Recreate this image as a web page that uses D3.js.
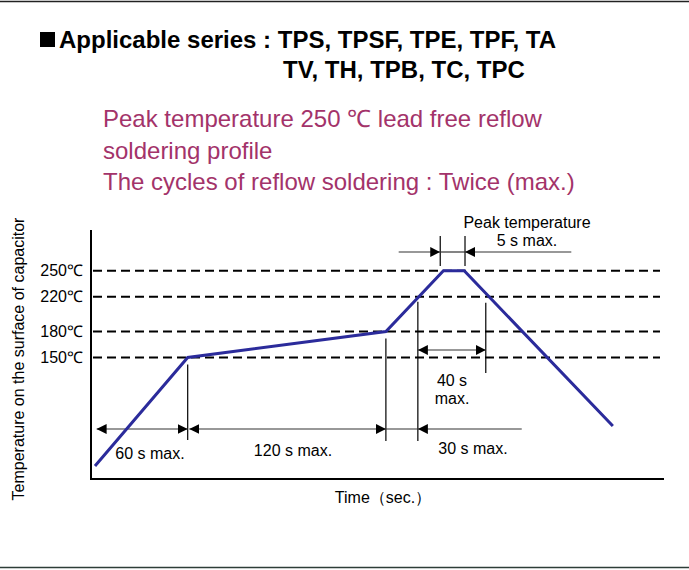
<!DOCTYPE html>
<html>
<head>
<meta charset="utf-8">
<script src="https://cdn.jsdelivr.net/npm/d3@7"></script>
<style>
  body { margin: 0; background: #fff; }
  text { font-family: "Liberation Sans", Arial, sans-serif; }
</style>
</head>
<body>
<div id="plot"></div>
<script>
// reflow profile, schematic values
const profileTime = [0, 58, 182, 218, 231, 324];
const profileTemp = [25, 150, 180, 250, 250, 71];

const levels = [150, 180, 220, 250];
const levelLabels = ["150℃", "180℃", "220℃", "250℃"];

// dimension spans (time in s)
const spanStart = [0, 59, 182];
const spanEnd = [58, 182, 202];
const spanLabels = ["60 s max.", "120 s max.", "30 s max."];

const titleLines = ["Applicable series : TPS, TPSF, TPE, TPF, TA", "TV, TH, TPB, TC, TPC"];
const subtitleLines = ["Peak temperature 250 ℃ lead free reflow", "soldering profile", "The cycles of reflow soldering : Twice (max.)"];

const w = 689;
const h = 570;
const plot = { left: 91, right: 664, top: 230, bottom: 479 };

const svg = d3.select("div#plot")
    .append("svg")
    .attr("width", w)
    .attr("height", h);

const x = d3.scaleLinear().domain([-2.5, 356]).range([plot.left, plot.right]);
const y = d3.scaleLinear().domain([10, 297]).range([plot.bottom, plot.top]);

// arrow heads
const defs = svg.append("defs");
defs.append("marker")
    .attr("id", "arr")
    .attr("viewBox", "0 0 10 10")
    .attr("refX", 10).attr("refY", 5)
    .attr("markerWidth", 10).attr("markerHeight", 10)
    .attr("markerUnits", "userSpaceOnUse")
    .attr("orient", "auto-start-reverse")
    .append("path")
    .attr("d", "M0,0L10,5L0,10Z")
    .attr("fill", "#000");

// frame lines
svg.append("line").attr("x1", 0).attr("x2", w).attr("y1", 1.5).attr("y2", 1.5)
    .attr("stroke", "#222").attr("stroke-width", 1.5);
svg.append("line").attr("x1", 0).attr("x2", w).attr("y1", 567.5).attr("y2", 567.5)
    .attr("stroke", "#2d3d38").attr("stroke-width", 1.5);

// title
svg.append("rect").attr("x", 40).attr("y", 32).attr("width", 15).attr("height", 15).attr("fill", "#000");
svg.selectAll(".title")
    .data(titleLines)
    .enter().append("text")
    .attr("class", "title")
    .attr("x", (d, i) => i === 0 ? 59 : 283)
    .attr("y", (d, i) => 48 + i * 30)
    .attr("font-size", "24px")
    .attr("font-weight", "bold")
    .attr("fill", "#000")
    .text(d => d);

svg.selectAll(".subtitle")
    .data(subtitleLines)
    .enter().append("text")
    .attr("class", "subtitle")
    .attr("x", 103)
    .attr("y", (d, i) => 127 + i * 31.5)
    .attr("font-size", "24px")
    .attr("fill", "#a3336a")
    .text(d => d);

// dashed levels
svg.selectAll(".level")
    .data(levels)
    .enter().append("line")
    .attr("x1", plot.left + 2).attr("x2", 660)
    .attr("y1", d => y(d)).attr("y2", d => y(d))
    .attr("stroke", "#000")
    .attr("stroke-width", 2)
    .attr("stroke-dasharray", "9,5");

// axes
const yAxis = d3.axisLeft(y).tickValues(levels).tickFormat((d, i) => levelLabels[i]).tickSize(0).tickPadding(8);
const gy = svg.append("g").attr("transform", `translate(${plot.left},0)`).call(yAxis);
gy.select(".domain").remove();
gy.selectAll("text").attr("font-size", "16px").attr("font-family", "Liberation Sans, Arial, sans-serif").attr("fill", "#000");

svg.append("path")
    .attr("d", `M${plot.left},${plot.top}V${plot.bottom}H${plot.right}`)
    .attr("fill", "none").attr("stroke", "#000").attr("stroke-width", 2);

svg.append("text")
    .attr("transform", `translate(24,${359}) rotate(-90)`)
    .attr("text-anchor", "middle")
    .attr("font-size", "16px")
    .text("Temperature on the surface of capacitor");

svg.append("text")
    .attr("x", 383).attr("y", 503)
    .attr("text-anchor", "middle")
    .attr("font-size", "16px")
    .text("Time（sec.）");

// extension lines
function vline(t, y1, y2) {
  svg.append("line")
      .attr("x1", x(t)).attr("x2", x(t))
      .attr("y1", y1).attr("y2", y2)
      .attr("stroke", "#000").attr("stroke-width", 1.2);
}
vline(58, y(150) + 7, 440);
vline(182, y(180) + 7, 441);
vline(202, y(220) + 5, 441);
vline(244.5, y(220) + 6, 373);
vline(216, 236, 266);
vline(231.5, 236, 266);

// horizontal dimension arrows
const dimY = 429;
function hline(t1, t2, yy, a1, a2) {
  const l = svg.append("line")
      .attr("x1", x(t1)).attr("x2", x(t2))
      .attr("y1", yy).attr("y2", yy)
      .attr("stroke", "#333").attr("stroke-width", 1.2);
  if (a1) l.attr("marker-start", "url(#arr)");
  if (a2) l.attr("marker-end", "url(#arr)");
}
hline(spanStart[0] + 1, spanEnd[0], dimY, true, true);
hline(spanStart[1], spanEnd[1], dimY, true, true);
hline(spanStart[2], spanEnd[2], dimY, false, false);
hline(267, spanEnd[2], dimY, false, true);

svg.selectAll(".spanlabel")
    .data(spanLabels)
    .enter().append("text")
    .attr("x", (d, i) => [150, 293, 473][i])
    .attr("y", (d, i) => [459, 456, 454][i])
    .attr("text-anchor", "middle")
    .attr("font-size", "16px")
    .text(d => d);

// 40 s span
hline(202, 244.5, 350, true, true);
svg.append("text").attr("x", 452).attr("y", 386).attr("text-anchor", "middle").attr("font-size", "16px").text("40 s");
svg.append("text").attr("x", 452).attr("y", 404).attr("text-anchor", "middle").attr("font-size", "16px").text("max.");

// peak 5 s
hline(190, 216, 252, false, true);
hline(216, 231.5, 252, false, false);
hline(298, 231.5, 252, false, true);
svg.append("text").attr("x", 527).attr("y", 228).attr("text-anchor", "middle").attr("font-size", "16px").text("Peak temperature");
svg.append("text").attr("x", 527).attr("y", 246).attr("text-anchor", "middle").attr("font-size", "16px").text("5 s max.");

// profile
const line = d3.line().x(d => x(d[0])).y(d => y(d[1]));
svg.append("path")
    .datum(profileTime.map((t, i) => [t, profileTemp[i]]))
    .attr("d", line)
    .attr("fill", "none")
    .attr("stroke", "#2b2b9b")
    .attr("stroke-width", 3);
</script>
</body>
</html>
